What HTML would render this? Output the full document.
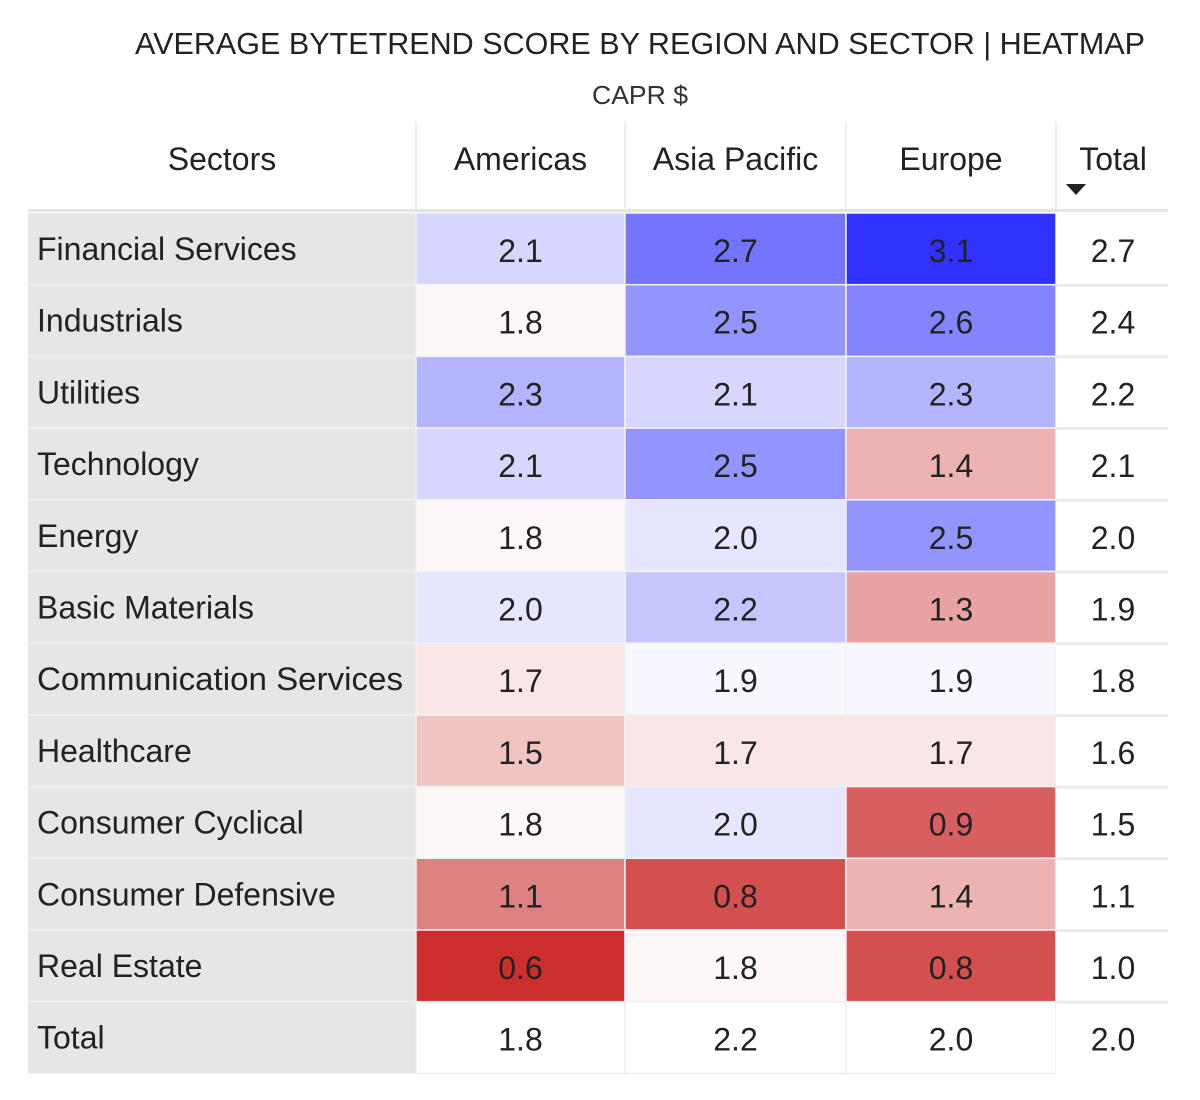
<!DOCTYPE html>
<html><head><meta charset="utf-8">
<style>
html,body{margin:0;padding:0;background:#fff;}
svg{display:block;font-family:"Liberation Sans",sans-serif;}
</style></head>
<body>
<svg id="chart" width="1200" height="1100" viewBox="0 0 1200 1100">
<text x="640" y="54" text-anchor="middle" font-size="31" fill="#222" textLength="1010" lengthAdjust="spacingAndGlyphs">AVERAGE BYTETREND SCORE BY REGION AND SECTOR | HEATMAP</text>
<text x="640" y="104" text-anchor="middle" font-size="26" fill="#333" textLength="96" lengthAdjust="spacingAndGlyphs">CAPR $</text>
<g id="grid"></g>
</svg>
<script>
const sectors = ["Financial Services","Industrials","Utilities","Technology","Energy","Basic Materials","Communication Services","Healthcare","Consumer Cyclical","Consumer Defensive","Real Estate"];
const regions = ["Americas","Asia Pacific","Europe"];
const americas = [2.1,1.8,2.3,2.1,1.8,2.0,1.7,1.5,1.8,1.1,0.6];
const asiaPacific = [2.7,2.5,2.1,2.5,2.0,2.2,1.9,1.7,2.0,0.8,1.8];
const europe = [3.1,2.6,2.3,1.4,2.5,1.3,1.9,1.7,0.9,1.4,0.8];
const rowTotals = [2.7,2.4,2.2,2.1,2.0,1.9,1.8,1.6,1.5,1.1,1.0];
const colTotals = [1.8,2.2,2.0];
const grandTotal = 2.0;

const NS="http://www.w3.org/2000/svg";
const g=document.getElementById('grid');
function el(tag,attrs,parent){const e=document.createElementNS(NS,tag);for(const k in attrs)e.setAttribute(k,attrs[k]);(parent||g).appendChild(e);return e;}
const colX=[28,416,625,846,1056,1168];
const top0=213, rowH=71.7;
function color(v){
  const mid=1.85;
  if(v>=mid){const t=Math.min(1,(v-mid)/(3.1-mid));const c=Math.round(255-t*205);return `rgb(${c},${c},255)`;}
  const t=Math.min(1,(mid-v)/(mid-0.6));return `rgb(${Math.round(255-t*51)},${Math.round(255-t*210)},${Math.round(255-t*210)})`;
}
// header
const hdrs=["Sectors"].concat(regions).concat(["Total"]);
hdrs.forEach((h,i)=>{
  const cx=i===4?1113:(colX[i]+colX[i+1])/2;
  const t=el('text',{x:cx,y:170,'text-anchor':'middle','font-size':32,fill:'#222'});
  t.textContent=h;
  
  
});
const arrow=el('path',{d:'M1066 184 L1086 184 L1076 195 Z',fill:'#222'});


[416,625,846,1056].forEach(x=>{const l=el('line',{x1:x,y1:122,x2:x,y2:210,stroke:'#e8e8e8','stroke-width':1.5});
});
const hl=el('rect',{x:28,y:209,width:1140,height:3,fill:'#e4e4e4'});

// sector column background
const sb=el('rect',{x:28,y:top0,width:388,height:rowH*12,fill:'#e6e6e6'});

const series=[americas,asiaPacific,europe];
function text(x,y,s,anchor,name){const t=el('text',{x:x,y:y,'text-anchor':anchor,'font-size':32,fill:'#222'});t.textContent=s;
return t;}
for(let r=0;r<12;r++){
  const y=top0+r*rowH;
  const isTot=r===11;
  const lab=isTot?"Total":sectors[r];
  const lt=text(37,y+47,lab,'start','row-label-'+lab.toLowerCase().replace(/ /g,'-'));
  if(lab==="Communication Services"){lt.setAttribute('textLength','366');lt.setAttribute('lengthAdjust','spacingAndGlyphs');}
  for(let c=0;c<3;c++){
    const v=isTot?colTotals[c]:series[c][r];
    const x=colX[c+1], w=colX[c+2]-colX[c+1];
    const rc=el('rect',{x:x,y:y,width:w,height:rowH,fill:isTot?'#fff':color(v),stroke:isTot?'#eee':'#f2f2f2','stroke-width':1.5});
    
    
    text(x+w/2,y+49,v.toFixed(1),'middle','cell-value');
  }
  const tv=isTot?grandTotal:rowTotals[r];
  const tr=el('rect',{x:1056,y:y,width:112,height:rowH,fill:'#fff'});
  
  if(r>0){const sl=el('rect',{x:1056,y:y-1,width:112,height:3,fill:'#ececec'});
  
  const sl2=el('rect',{x:28,y:y-1,width:388,height:2,fill:'#f0f0f0'});
  }
  text(1113,y+49,tv.toFixed(1),'middle','row-total-value');
}
</script>
</body></html>
